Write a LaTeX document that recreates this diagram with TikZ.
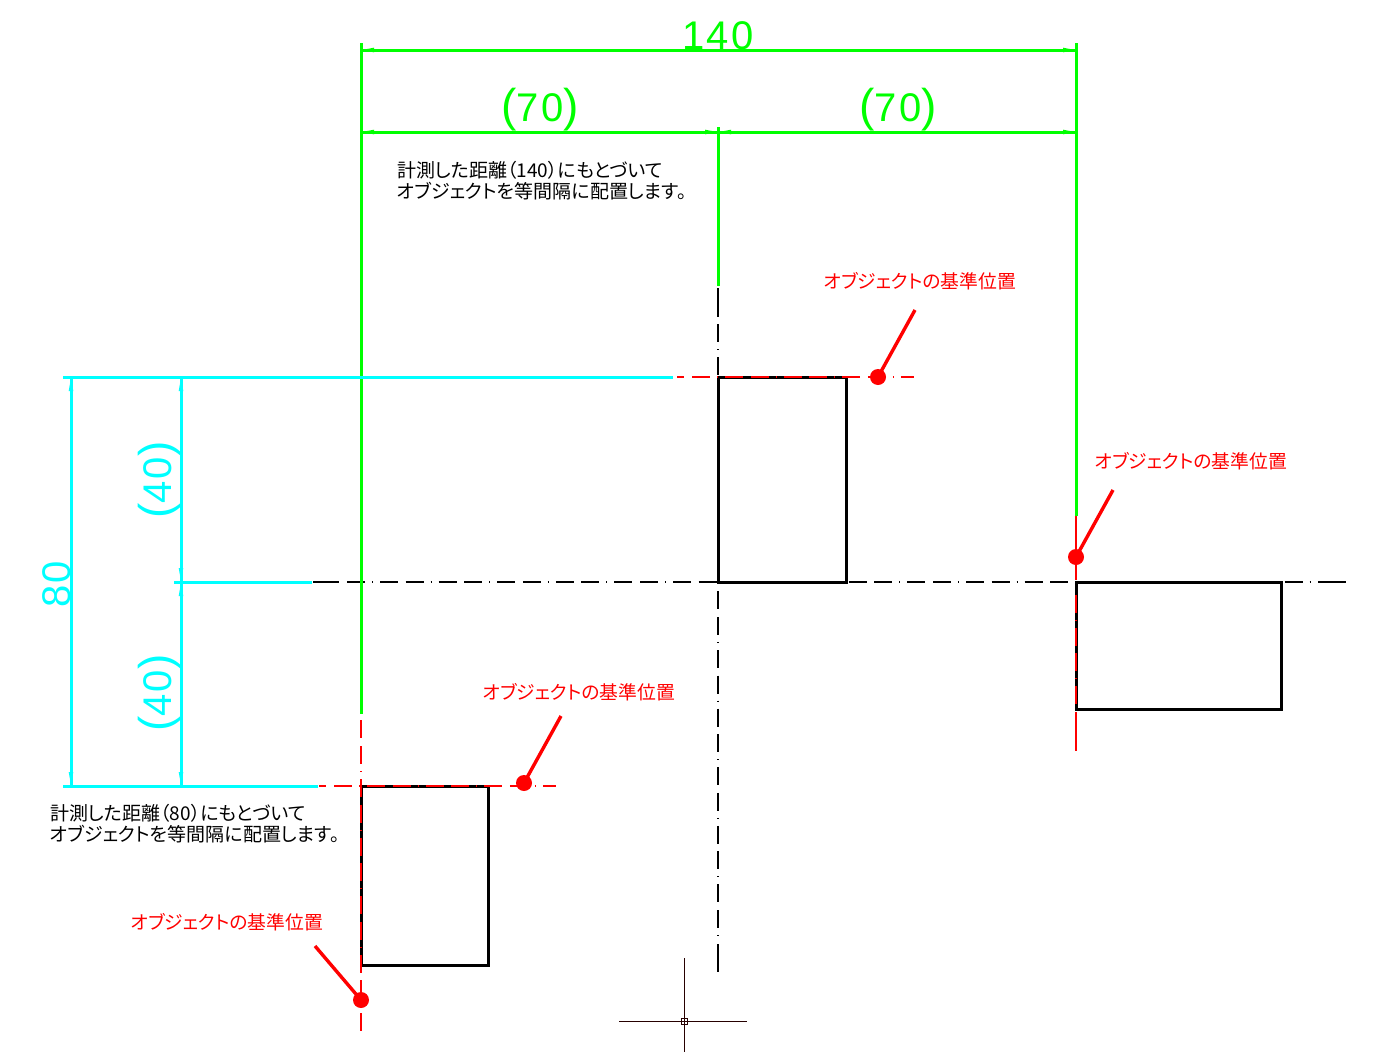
\documentclass[tikz,border=0pt]{standalone}
\usepackage{fontspec}
\setmainfont{Liberation Sans}
\newfontfamily\cjk[RawFeature=+palt]{Noto Sans CJK JP}
\newfontfamily\dimfont[LetterSpace=5]{Liberation Sans}
\definecolor{cadgreen}{RGB}{0,255,0}
\definecolor{cadcyan}{RGB}{0,255,255}
\definecolor{cadred}{RGB}{255,0,0}
\newcommand{\bigparen}[1]{{\fontsize{46}{46}\selectfont #1}}
\tikzset{
  x=1pt,y=-1pt,
  shapebox/.style={draw=black,line width=3pt,inner sep=0pt,outer sep=0pt,anchor=north west},
  gdim/.style={draw=cadgreen,line width=3pt},
  cdim/.style={draw=cadcyan,line width=3pt},
  gtext/.style={text=cadgreen,font=\dimfont\fontsize{40}{40}\selectfont,inner sep=0pt,anchor=base},
  ctext/.style={text=cadcyan,font=\dimfont\fontsize{40}{40}\selectfont,inner sep=0pt,rotate=90,anchor=base},
  centre/.style={draw=black,line width=2.6pt},
  cpattern/.style={dash pattern=on 18pt off 7pt on 1pt off 7pt on 18pt off 7.6pt},
  redsolid/.style={draw=cadred,line width=2pt},
  redcentre/.style={draw=cadred,line width=2.8pt,cpattern},
  leader/.style={draw=cadred,line width=3.4pt},
  refdot/.style={circle,fill=cadred,minimum size=16pt,inner sep=0pt},
  redlabel/.style={text=cadred,font=\cjk\fontsize{18.8}{19}\selectfont,inner sep=0pt},
  note/.style={text=black,font=\cjk\fontsize{19}{21}\selectfont,inner sep=0pt,align=left,anchor=north west},
  cursorline/.style={draw=black!85!red,line width=1pt}
}
\begin{document}
\begin{tikzpicture}
\useasboundingbox (0,0) rectangle (1392,1052);
% anchor coordinates
\coordinate (gA) at (361,43);
\coordinate (gAb) at (361,714);
\coordinate (gB) at (718,127);
\coordinate (gBb) at (718,286);
\coordinate (gC) at (1076,43);
\coordinate (gCb) at (1076,516);
\coordinate (d1l) at (361,50);
\coordinate (d1r) at (1076,50);
\coordinate (d2l) at (361,132);
\coordinate (d2r) at (1076,132);
\coordinate (cTl) at (63,377);
\coordinate (cTr) at (673,377);
\coordinate (cMl) at (174,582);
\coordinate (cMr) at (312,582);
\coordinate (cBl) at (63,786);
\coordinate (cBr) at (318,786);
\coordinate (v1t) at (71,377);
\coordinate (v1b) at (71,786);
\coordinate (v2t) at (181,377);
\coordinate (v2b) at (181,786);
% black centre lines
\coordinate (clH0) at (313,582);
\coordinate (clH1) at (339,582);
\coordinate (clH2) at (347,582);
\coordinate (clH3) at (1311,582);
\coordinate (clH4) at (1318,582);
\coordinate (clH5) at (1346,582);
\coordinate (clV0) at (718,288);
\coordinate (clV1) at (718,317);
\coordinate (clV2) at (718,324);
\coordinate (clV3) at (718,937);
\coordinate (clV4) at (718,944);
\coordinate (clV5) at (718,972);
\draw[centre] (clH0) -- (clH1);
\draw[centre,cpattern] (clH2) -- (clH3);
\draw[centre] (clH4) -- (clH5);
\draw[centre] (clV0) -- (clV1);
\draw[centre,cpattern] (clV2) -- (clV3);
\draw[centre] (clV4) -- (clV5);
% rectangles
\node[shapebox,fill=white,minimum width=128pt,minimum height=205pt] (boxM) at (718,377) {};
\node[shapebox,fill=white,minimum width=205pt,minimum height=127pt] (boxR) at (1076,582) {};
\node[shapebox,minimum width=127pt,minimum height=179pt] (boxL) at (361,786) {};
% red reference lines
\coordinate (rMa) at (677,377);
\coordinate (rMb) at (914,377);
\coordinate (rLa) at (319,786);
\coordinate (rLb) at (556,786);
\coordinate (rVa) at (361,715);
\coordinate (rVb) at (361,1033);
\coordinate (rRa) at (1076,516);
\coordinate (rRb) at (1076,580);
\coordinate (rRc) at (1075.5,590);
\coordinate (rRd) at (1075.5,706);
\coordinate (rRe) at (1076,712);
\coordinate (rRf) at (1076,751);
\draw[redcentre,dash phase=43.6pt] (rMa) -- (rMb);
\draw[redcentre,dash phase=43.6pt] (rLa) -- (rLb);
\draw[redcentre,dash phase=27.6pt] (rVa) -- (rVb);
\draw[redsolid] (rRa) -- (rRb);
\draw[redsolid,cpattern,dash phase=54pt] (rRc) -- (rRd);
\draw[redsolid] (rRe) -- (rRf);
% green dimensions
\draw[gdim] (gA) -- (gAb);
\draw[gdim] (gB) -- (gBb);
\draw[gdim] (gC) -- (gCb);
\draw[gdim] (d1l) -- (d1r);
\draw[gdim] (d2l) -- (d2r);
\foreach \xx/\dd in {361/1,718/-1,718/1,1076/-1}{
  \fill[cadgreen] (\xx+\dd*1,132) -- (\xx+\dd*13,129.7) -- (\xx+\dd*13,134.3) -- cycle;
}
\foreach \xx/\dd in {361/1,1076/-1}{
  \fill[cadgreen] (\xx+\dd*1,50) -- (\xx+\dd*13,47.7) -- (\xx+\dd*13,52.3) -- cycle;
}
\node[gtext] (t140) at (718,49) {140};
\node[gtext] (t70a) at (540,121) {\bigparen{(}70\bigparen{)}};
\node[gtext] (t70b) at (898,121) {\bigparen{(}70\bigparen{)}};
% cyan dimensions
\draw[cdim] (cTl) -- (cTr);
\draw[cdim] (cMl) -- (cMr);
\draw[cdim] (cBl) -- (cBr);
\draw[cdim] (v1t) -- (v1b);
\draw[cdim] (v2t) -- (v2b);
\foreach \xx in {71,181}{
  \fill[cadcyan] (\xx,378) -- (\xx-2.3,391) -- (\xx+2.3,391) -- cycle;
  \fill[cadcyan] (\xx,785) -- (\xx-2.3,772) -- (\xx+2.3,772) -- cycle;
}
\fill[cadcyan] (181,581) -- (178.7,568) -- (183.3,568) -- cycle;
\fill[cadcyan] (181,583) -- (178.7,596) -- (183.3,596) -- cycle;
\node[ctext] (t80) at (70,584) {80};
\node[ctext] (t40a) at (171,480) {\bigparen{(}40\bigparen{)}};
\node[ctext] (t40b) at (171,693) {\bigparen{(}40\bigparen{)}};
% leaders
\node[refdot] (dM) at (878,377) {};
\node[refdot] (dR) at (1076,557) {};
\node[refdot] (dL) at (524,783) {};
\node[refdot] (dB) at (361,1000) {};
\coordinate (lM) at (915,310);
\coordinate (lR) at (1113,490);
\coordinate (lL) at (561,716);
\coordinate (lB) at (315,946);
\draw[leader] (lM) -- (dM.center);
\draw[leader] (lR) -- (dR.center);
\draw[leader] (lL) -- (dL.center);
\draw[leader] (lB) -- (dB.center);
% labels
\node[redlabel] (lbM) at (920,281) {オブジェクトの基準位置};
\node[redlabel] (lbR) at (1191,461) {オブジェクトの基準位置};
\node[redlabel] (lbL) at (579,692) {オブジェクトの基準位置};
\node[redlabel] (lbB) at (227,922) {オブジェクトの基準位置};
\node[note] (n1) at (397,161.5) {計測した距離（140）にもとづいて\\オブジェクトを等間隔に配置します。};
\node[note] (n2) at (50,804.5) {計測した距離（80）にもとづいて\\オブジェクトを等間隔に配置します。};
% cursor
\coordinate (cuT) at (684,958);
\coordinate (cuB) at (684,1052);
\coordinate (cuL) at (619,1021);
\coordinate (cuR) at (747,1021);
\draw[cursorline] (cuT) -- (cuB);
\draw[cursorline] (cuL) -- (cuR);
\node[draw=black!85!red,fill=white,line width=1pt,minimum size=6pt,inner sep=0pt] (cuC) at (684,1021) {};
\draw[cursorline,line width=.6pt] (cuC.north) -- (cuC.south) (cuC.west) -- (cuC.east);
\end{tikzpicture}
\end{document}
